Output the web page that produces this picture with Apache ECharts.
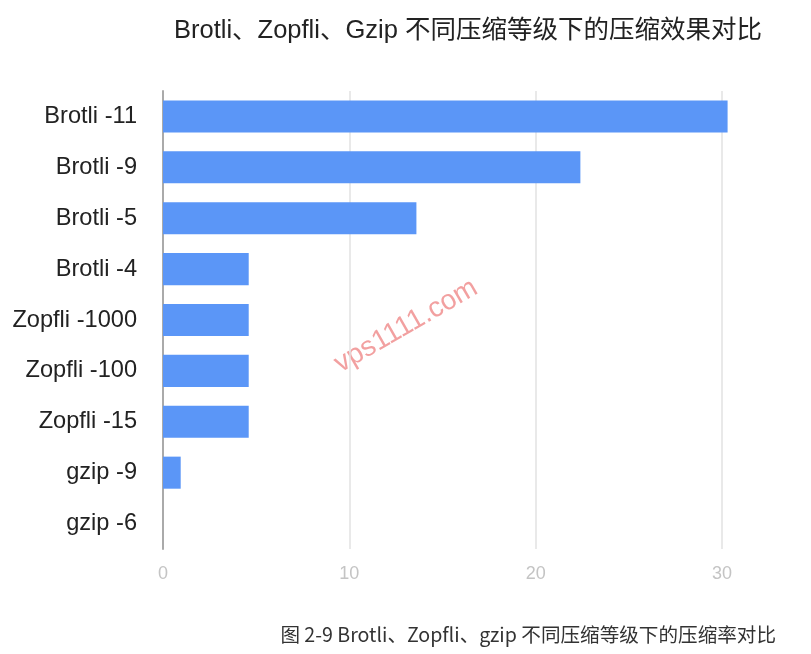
<!DOCTYPE html>
<html>
<head>
<meta charset="utf-8">
<script src="https://cdn.jsdelivr.net/npm/echarts@6/dist/echarts.min.js"></script>
<style>
  html, body { margin: 0; padding: 0; background: #fff; }
  #chart { width: 811px; height: 654px; }
</style>
</head>
<body>
<div id="chart"></div>
<script>
// 分类（从上到下）
const categories = ['Brotli -11', 'Brotli -9', 'Brotli -5', 'Brotli -4', 'Zopfli -1000', 'Zopfli -100', 'Zopfli -15', 'gzip -9', 'gzip -6'];
// 压缩效果数值
const values = [30.3, 22.4, 13.6, 4.6, 4.6, 4.6, 4.6, 0.95, 0];
const xTicks = [0, 10, 20, 30];

const chart = echarts.init(document.getElementById('chart'));

const option = {
  animation: false,
  title: {
    text: 'Brotli、Zopfli、Gzip 不同压缩等级下的压缩效果对比',
    left: 169,
    top: 13,
    textStyle: {
      fontFamily: 'Liberation Sans, Noto Sans CJK SC',
      fontSize: 25.5,
      fontWeight: 'normal',
      color: '#222'
    }
  },
  grid: { left: 163, right: 89, top: 91, bottom: 105 },
  xAxis: {
    type: 'value',
    min: xTicks[0],
    max: xTicks[xTicks.length - 1],
    interval: 10,
    axisLine: { show: false },
    axisTick: { show: false },
    axisLabel: {
      color: '#c4c4c4',
      fontSize: 18,
      fontFamily: 'Liberation Sans',
      margin: 16
    },
    splitLine: { lineStyle: { color: '#e2e2e2', width: 1.5 } }
  },
  yAxis: {
    type: 'category',
    data: categories,
    inverse: true,
    axisLine: { lineStyle: { color: '#aaa', width: 2 } },
    axisTick: { show: false },
    axisLabel: {
      color: '#222',
      fontSize: 23.6,
      fontFamily: 'Liberation Sans',
      margin: 26
    }
  },
  series: [{
    type: 'bar',
    data: values,
    barCategoryGap: '37%',
    clip: false,
    itemStyle: { color: '#5b96f7' }
  }],
  graphic: [
    {
      type: 'text',
      x: 406,
      y: 326,
      rotation: Math.PI / 6,
      style: {
        text: 'vps1111.com',
        fill: 'rgba(236, 120, 120, 0.7)',
        font: '28px "Liberation Sans"',
        textAlign: 'center',
        textVerticalAlign: 'middle'
      }
    },
    {
      type: 'text',
      right: 35,
      top: 625,
      style: {
        text: '图 2-9 Brotli、Zopfli、gzip 不同压缩等级下的压缩率对比',
        fill: '#333',
        font: '19.6px "Noto Sans CJK SC"'
      }
    }
  ]
};

chart.setOption(option);
</script>
</body>
</html>
